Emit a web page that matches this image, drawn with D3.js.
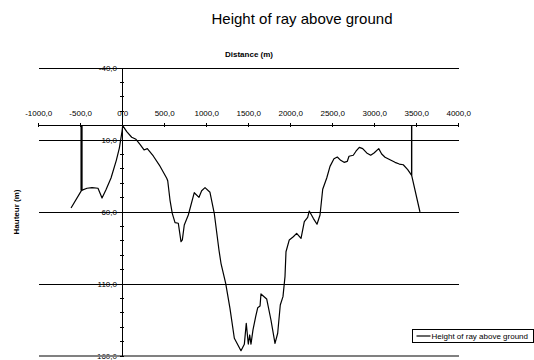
<!DOCTYPE html>
<html>
<head>
<meta charset="utf-8">
<script src="https://cdn.jsdelivr.net/npm/d3@7"></script>
<style>
  body { margin: 0; background: #fff; }
  svg { display: block; font-family: Arial, "Liberation Sans", sans-serif; }
</style>
</head>
<body>
<svg id="chart" width="534" height="360"></svg>
<script>
// Ray clearance profile: distance along the path (m) and height of the ray above ground (m)
const distance = [
  -615, -490, -425, -365, -294, -246, -199, -139, -76, -40, -8, 0,
  48, 107, 158, 206, 254, 293, 364, 436, 524, 536, 563, 590, 623, 662,
  694, 710, 733, 781, 852, 908, 940, 980, 1039, 1090, 1146, 1170, 1226,
  1277, 1329, 1408, 1448, 1471, 1495, 1512, 1527, 1551, 1583, 1607, 1635,
  1646, 1714, 1765, 1813, 1845, 1876, 1908, 1932, 1944, 1983, 2031, 2071,
  2123, 2162, 2202, 2221, 2269, 2313, 2349, 2381, 2429, 2468, 2515, 2555,
  2595, 2635, 2674, 2694, 2745, 2777, 2817, 2857, 2905, 2952, 2992, 3048,
  3083, 3123, 3182, 3242, 3293, 3340, 3393, 3440, 3539
];
const rayHeight = [
  57.2, 45.0, 43.5, 43.1, 43.5, 50.3, 44.5, 36.4, 24.1, 15.6, 4.0, 0.0,
  4.2, 8.1, 9.5, 13.0, 16.9, 16.0, 21.1, 27.4, 36.6, 38.3, 51.7, 60.9, 67.4, 67.8,
  80.6, 79.4, 69.0, 62.1, 46.6, 49.8, 45.2, 43.1, 46.3, 60.9, 86.4, 95.6, 109.5,
  126.9, 147.7, 156.3, 151.9, 137.3, 151.7, 145.4, 151.7, 141.9, 132.7, 126.5, 125.3,
  116.9, 120.4, 135.0, 151.2, 144.2, 124.6, 118.8, 104.9, 87.6, 79.4, 77.2, 74.8,
  78.3, 66.7, 63.7, 59.3, 64.4, 68.5, 62.1, 44.2, 36.4, 28.3, 23.0, 21.8,
  24.1, 25.5, 24.8, 21.3, 20.6, 17.8, 15.1, 16.0, 19.0, 20.6, 19.0, 16.0,
  19.7, 22.0, 23.7, 25.5, 26.7, 27.2, 30.6, 34.5, 60.0
];

// Antenna positions at both ends of the link and the ray height there
const antennaDistance = [-490, 3440];
const antennaHeight = [45.0, 34.5];

// Axis ticks
const xTickValues = [-1000, -500, 0, 500, 1000, 1500, 2000, 2500, 3000, 3500, 4000];
const yTickValues = [-40, 10, 60, 110, 160];

const titleText = "Height of ray above ground";
const xTitle = "Distance (m)";
const yTitle = "Hauteur (m)";
const legendLabel = "Height of ray above ground";

const svg = d3.select("#chart");

const x = d3.scaleLinear().domain([-1000, 4000]).range([38.7, 458.7]);
const y = d3.scaleLinear().domain([-40, 160]).range([68, 356]);

const fmt = d3.formatLocale({
  decimal: ",", thousands: "", grouping: [3], currency: ["", ""], minus: "-"
}).format(".1f");

// Title
svg.append("text")
  .attr("x", 302).attr("y", 24)
  .attr("text-anchor", "middle")
  .attr("font-size", 15)
  .text(titleText);

// Axis titles
svg.append("text")
  .attr("x", 249).attr("y", 57)
  .attr("text-anchor", "middle")
  .attr("font-size", 8).attr("font-weight", "bold")
  .text(xTitle);

svg.append("text")
  .attr("transform", "translate(19,212) rotate(-90)")
  .attr("text-anchor", "middle")
  .attr("font-size", 8).attr("font-weight", "bold")
  .text(yTitle);

// Y tick labels
svg.append("g").selectAll("text")
  .data(yTickValues)
  .join("text")
  .attr("x", 117)
  .attr("y", d => y(d) + 3)
  .attr("text-anchor", "end")
  .attr("font-size", 8)
  .text(d => fmt(d));

// Horizontal gridlines
svg.append("g").selectAll("line")
  .data(yTickValues)
  .join("line")
  .attr("x1", x.range()[0]).attr("x2", x.range()[1])
  .attr("y1", d => y(d)).attr("y2", d => y(d))
  .attr("stroke", d => d === 160 ? "#808080" : "#000")
  .attr("stroke-width", d => d === 160 ? 2 : 1)
  .attr("shape-rendering", "crispEdges");

// Y axis (vertical at x = 0) with major and minor ticks
const yAxis = svg.append("g").attr("shape-rendering", "crispEdges");
yAxis.append("line")
  .attr("x1", x(0)).attr("x2", x(0))
  .attr("y1", y(-40)).attr("y2", y(160))
  .attr("stroke", "#000");
yAxis.selectAll("line.minor")
  .data(d3.range(-40, 161, 10))
  .join("line")
  .attr("class", "minor")
  .attr("x1", x(0) - 3).attr("x2", x(0) + 1)
  .attr("y1", d => y(d)).attr("y2", d => y(d))
  .attr("stroke", "#000");

// X axis (horizontal at height 0), labels above
const xAxis = svg.append("g").attr("shape-rendering", "crispEdges");
xAxis.append("line")
  .attr("x1", x.range()[0]).attr("x2", x.range()[1])
  .attr("y1", y(0)).attr("y2", y(0))
  .attr("stroke", "#000");
xAxis.selectAll("line.tick")
  .data(xTickValues)
  .join("line")
  .attr("class", "tick")
  .attr("x1", d => x(d)).attr("x2", d => x(d))
  .attr("y1", y(0) - 3).attr("y2", y(0) + 1)
  .attr("stroke", "#000");
svg.append("g").selectAll("text")
  .data(xTickValues)
  .join("text")
  .attr("x", d => x(d))
  .attr("y", 116)
  .attr("text-anchor", "middle")
  .attr("font-size", 8)
  .text(d => fmt(d));

// Ray height profile
const profile = distance.map((d, i) => [d, rayHeight[i]]);
svg.append("path")
  .datum(profile)
  .attr("fill", "none")
  .attr("stroke", "#000")
  .attr("stroke-width", 1.2)
  .attr("stroke-linejoin", "round")
  .attr("d", d3.line().x(d => x(d[0])).y(d => y(d[1])));

// Antenna masts: from ground reference (0) down to the ray
svg.append("g").selectAll("line")
  .data(antennaDistance)
  .join("line")
  .attr("x1", d => x(d)).attr("x2", d => x(d))
  .attr("y1", y(0))
  .attr("y2", (d, i) => y(antennaHeight[i]))
  .attr("stroke", "#000")
  .attr("stroke-width", (d, i) => i === 0 ? 2.2 : 1.4);

// Legend
const lg = svg.append("g").attr("transform", "translate(412.5,329.5)");
lg.append("rect")
  .attr("width", 121).attr("height", 13)
  .attr("fill", "#fff").attr("stroke", "#000").attr("stroke-width", 1);
lg.append("line")
  .attr("x1", 4).attr("x2", 18).attr("y1", 6.5).attr("y2", 6.5)
  .attr("stroke", "#000").attr("stroke-width", 1.2);
lg.append("text")
  .attr("x", 19).attr("y", 9.5)
  .attr("font-size", 8)
  .text(legendLabel);
</script>
</body>
</html>
